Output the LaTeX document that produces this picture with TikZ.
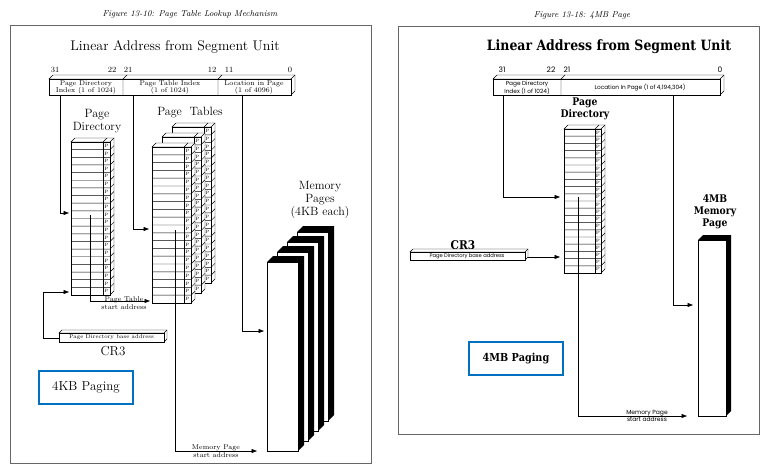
\documentclass[tikz,border=0pt]{standalone}
\usepackage{fontspec}
\usetikzlibrary{arrows.meta}
\newfontfamily\heavyfont[FakeStretch=0.88]{DejaVu Serif}
\newfontfamily\geofont{Poppins}
\definecolor{tagblue}{RGB}{0,112,192}

% white 3-D bar: front top-left corner, width, height, depth
\newcommand{\prism}[5]{%
  \filldraw[tface] (#1,#2) -- ++(#5,-#5) -- ++(#3,0) -- ++(0,#4) -- ++(-#5,#5) -- ++(0,-#4) -- cycle;
  \draw[tline] (#1+#3,#2) -- ++(#5,-#5);
  \filldraw[tface] (#1,#2) rectangle ++(#3,#4);
}
% table of 20 entries with a present-bit column
\newcommand{\pgtable}[6]{%
  \pgfmathsetmacro{\tabw}{#3+#4}%
  \pgfmathsetmacro{\tabh}{20*#5}%
  \filldraw[tface] (#1,#2) -- ++(#6,-#6) -- ++(\tabw,0) -- ++(0,\tabh) -- ++(-#6,#6) -- ++(0,-\tabh) -- cycle;
  \draw[tline] (#1+#3,#2) -- ++(#6,-#6) (#1+\tabw,#2) -- ++(#6,-#6);
  \filldraw[tface] (#1,#2) rectangle ++(\tabw,\tabh);
  \draw[tline] (#1+#3,#2) -- ++(0,\tabh);
  \foreach \k in {1,...,19} {\draw[tline] (#1,#2+\k*#5) -- ++(\tabw,0) -- ++(#6,-#6);}
  \foreach \k in {0,...,19} {\node[pmark] at (#1+#3+#4/2,#2+\k*#5+#5/2) {P};}
}
% memory page slab with dark top and side
\newcommand{\memslab}[5]{%
  \fill[black] (#1,#2) -- ++(#5,-#5) -- ++(#3,0) -- ++(0,#4) -- ++(-#5,#5) -- cycle;
  \filldraw[fill=white,draw=black,line width=0.6pt] (#1,#2) rectangle ++(#3,#4);
}

\begin{document}
\begin{tikzpicture}[x=1pt,y=-1pt,
  frame/.style={draw=black!60,line width=0.7pt},
  tface/.style={draw=black,fill=white,line width=0.45pt},
  tline/.style={draw=black,line width=0.45pt},
  pmark/.style={inner sep=0pt,font=\fontsize{4.6}{4.6}\selectfont},
  conn/.style={draw=black,line width=0.6pt,-{Triangle[length=5.5pt,width=4pt]}},
  capt/.style={font=\fontsize{8.6}{9}\selectfont\itshape},
  bitno/.style={inner sep=0pt,font=\fontsize{8}{8}\selectfont},
  celltxt/.style={inner sep=0pt,align=center,font=\fontsize{7}{6.6}\selectfont},
  lbl/.style={inner sep=0pt,align=center,font=\fontsize{12}{13}\selectfont},
  wiretxt/.style={inner sep=0pt,align=center,font=\fontsize{7}{7.4}\selectfont},
  rbitno/.style={inner sep=0pt,font=\geofont\fontsize{7.5}{7.5}\selectfont},
  rcell/.style={inner sep=0pt,align=center,font=\geofont\fontsize{5.8}{5.8}\selectfont},
  rlbl/.style={inner sep=0pt,align=center,font=\heavyfont\bfseries\fontsize{10.5}{12}\selectfont},
  tag/.style={draw=tagblue,line width=1.6pt,minimum width=94pt,minimum height=33pt,inner sep=0pt}]
\useasboundingbox (0,0) rectangle (766,468);

% ---------- 4KB paging ----------
\draw[frame] (10,25) rectangle (371,463);
\node[capt] (capL) at (190,14) {Figure 13-10: Page Table Lookup Mechanism};
\node[font=\fontsize{14}{14}\selectfont] (titleL) at (175,47) {Linear Address from Segment Unit};

\node[bitno] (b31) at (55,70) {31};
\node[bitno] (b22) at (112,70) {22};
\node[bitno] (b21) at (128,70) {21};
\node[bitno] (b12) at (212,70) {12};
\node[bitno] (b11) at (229,70) {11};
\node[bitno] (b0) at (290,70) {0};

\prism{49}{79}{242}{16}{4}
\draw[tline] (123,79) -- ++(0,16) (123,79) -- ++(4,-4)
             (218,79) -- ++(0,16) (218,79) -- ++(4,-4);
\node[celltxt] (cDir) at (86,87.5) {Page Directory\\Index (1 of 1024)};
\node[celltxt] (cTab) at (170,87.5) {Page Table Index\\(1 of 1024)};
\node[celltxt] (cLoc) at (254,87.5) {Location in Page\\(1 of 4096)};
\coordinate (aPD) at (60,95);
\coordinate (aPT) at (133,95);
\coordinate (aOff) at (242,95);

\node[lbl] (pdLabL) at (97,121) {Page\\Directory};
\pgtable{71}{142}{32}{7}{7.65}{4}
\node[lbl] (ptLab) at (190,113) {Page~~Tables};
\pgtable{172}{127}{32}{7}{7.8}{4}
\pgtable{162}{137}{32}{7}{7.8}{4}
\pgtable{152}{147}{32}{7}{7.8}{4}

\node[lbl] (mpLab) at (320,200) {Memory\\Pages\\(4KB each)};
\memslab{297}{232}{31}{189}{6}
\memslab{287}{242}{31}{189}{6}
\memslab{277}{252}{31}{189}{6}
\memslab{267}{262}{31}{189}{6}

\prism{59}{333}{105}{9}{3}
\node[inner sep=0pt,font=\fontsize{5.6}{5.6}\selectfont] (cr3txt) at (111.5,337.5) {Page Directory base address};
\node[lbl,font=\fontsize{13}{13}\selectfont] (cr3L) at (113,351) {CR3};
\coordinate (cr3Lend) at (59,338);

\coordinate (pdIn) at (69,213);
\coordinate (pdBase) at (69,292);
\coordinate (pdOut) at (90,215);
\coordinate (ptIn) at (149,229);
\coordinate (ptBase) at (150,301);
\coordinate (ptOut) at (175,230);
\coordinate (mpIn) at (264,331);
\coordinate (mpBase) at (257,451);

\draw[conn] (aPD) |- (pdIn);
\draw[conn] (aPT) |- (ptIn);
\draw[conn] (aOff) |- (mpIn);
\draw[conn] (cr3Lend) -- ++(-16,0) |- (pdBase);
\draw[conn] (pdOut) |- (ptBase);
\draw[conn] (ptOut) |- (mpBase);
\node[wiretxt] (ptsa) at (124,303) {Page Table\\start address};
\node[wiretxt] (mpsaL) at (216,451) {Memory Page\\start address};

\node[tag,font=\fontsize{13}{13}\selectfont] (tagL) at (86,387.5) {4KB Paging};

% ---------- 4MB paging ----------
\draw[frame] (398,26) rectangle (759,434);
\node[capt] (capR) at (582,15) {Figure 13-18: 4MB Page};
\node[font=\heavyfont\bfseries\fontsize{14.2}{14}\selectfont] (titleR) at (609,47) {Linear Address from Segment Unit};

\node[rbitno] (r31) at (502,70) {31};
\node[rbitno] (r22) at (551,70) {22};
\node[rbitno] (r21) at (567,70) {21};
\node[rbitno] (r0) at (720,70) {0};

\prism{493}{79}{227}{16}{4}
\draw[tline] (561,79) -- ++(0,16) (561,79) -- ++(4,-4);
\node[rcell] (rDir) at (527,87.5) {Page Directory\\Index (1 of 1024)};
\node[rcell] (rLoc) at (640,87.5) {Location In Page (1 of 4,194,304)};
\coordinate (bPD) at (503,95);
\coordinate (bOff) at (673,95);

\node[rlbl] (pdLabR) at (585,109) {Page\\Directory};
\pgtable{564}{129}{31}{6}{7.2}{4}

\node[rlbl] (mpLabR) at (715,212) {4MB\\Memory\\Page};
\memslab{698}{240}{28}{176}{5}

\node[rlbl,font=\heavyfont\bfseries\fontsize{12}{12}\selectfont] (cr3R) at (463,245) {CR3};
\prism{410}{252}{115}{8}{3}
\node[inner sep=0pt,font=\geofont\fontsize{5.2}{5.2}\selectfont] (rcr3txt) at (467,256) {Page Directory base address};
\coordinate (rcr3end) at (528,257);

\coordinate (rpdIn) at (560,197);
\coordinate (rpdBase) at (560,257);
\coordinate (rpdOut) at (578,197);
\coordinate (rmpIn) at (693,305);
\coordinate (rmpBase) at (687,416);

\draw[conn] (bPD) |- (rpdIn);
\draw[conn] (bOff) |- (rmpIn);
\draw[conn] (rcr3end) -- (rpdBase);
\draw[conn] (rpdOut) |- (rmpBase);
\node[rcell,font=\geofont\fontsize{6}{6.4}\selectfont] (mpsaR) at (647,416) {Memory Page\\start address};

\node[tag,font=\heavyfont\bfseries\fontsize{11}{11}\selectfont] (tagR) at (516,358.5) {4MB Paging};
\end{tikzpicture}
\end{document}
